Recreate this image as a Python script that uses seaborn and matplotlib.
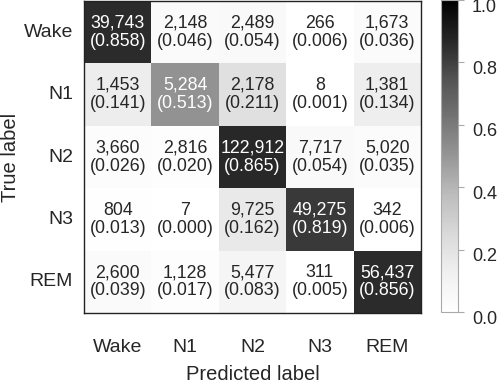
import numpy as np
import matplotlib
matplotlib.use("Agg")
import matplotlib.pyplot as plt
import matplotlib.transforms as mtransforms
import seaborn as sns

stages = ["Wake", "N1", "N2", "N3", "REM"]

# confusion counts, rows = true label, cols = predicted label
counts_wake = [39743, 2148, 2489, 266, 1673]
counts_n1 = [1453, 5284, 2178, 8, 1381]
counts_n2 = [3660, 2816, 122912, 7717, 5020]
counts_n3 = [804, 7, 9725, 49275, 342]
counts_rem = [2600, 1128, 5477, 311, 56437]


def main():
    sns.set_theme(style="white")
    plt.rcParams["font.family"] = ["Liberation Sans", "DejaVu Sans"]

    counts = np.array([counts_wake, counts_n1, counts_n2, counts_n3, counts_rem])
    norm = counts / counts.sum(axis=1, keepdims=True)
    labels = np.array([[f"{c:,}\n({p:.3f})" for c, p in zip(rc, rp)]
                       for rc, rp in zip(counts, norm)])

    fig = plt.figure(figsize=(4.98, 3.85), dpi=100)
    ax = fig.add_axes([84 / 498, 1 - 313 / 385, 337 / 498, 312 / 385])
    cax = fig.add_axes([441 / 498, 1 - 312 / 385, 17 / 498, 312 / 385])

    sns.heatmap(norm, annot=labels, fmt="", cmap="Greys", vmin=0, vmax=1,
                ax=ax, cbar_ax=cax, xticklabels=stages, yticklabels=stages,
                annot_kws={"fontsize": 12.8, "linespacing": 1.1})

    for s in ax.spines.values():
        s.set_visible(True)
        s.set_color("#222222")
        s.set_linewidth(1.0)

    ax.tick_params(axis="both", length=0, labelsize=14)
    ax.tick_params(axis="x", pad=19)
    ax.tick_params(axis="y", pad=8)
    plt.setp(ax.get_yticklabels(), rotation=0)
    ax.set_xlabel("Predicted label", fontsize=14.5, va="center")
    ax.set_ylabel("True label", fontsize=14.5, va="center")
    ax.xaxis.set_label_coords(0.5, (313 - 374) / 312)
    ax.yaxis.set_label_coords((11 - 84) / 337, 0.5)

    cbar = ax.collections[0].colorbar
    cbar.set_ticks([0.0, 0.2, 0.4, 0.6, 0.8, 1.0])
    cbar.ax.tick_params(labelsize=13, length=4, color="#aaaaaa", width=0.8,
                        right=True, pad=6)
    cbar.outline.set_visible(True)
    cbar.outline.set_edgecolor("#aaaaaa")
    cbar.outline.set_linewidth(0.8)
    # tick labels sit a little below their ticks in the original
    shift = mtransforms.ScaledTranslation(0, -5 / 100, fig.dpi_scale_trans)
    for lab in cbar.ax.get_yticklabels():
        lab.set_transform(lab.get_transform() + shift)

    fig.savefig("out.png", dpi=100)
    plt.close(fig)


if __name__ == "__main__":
    main()
